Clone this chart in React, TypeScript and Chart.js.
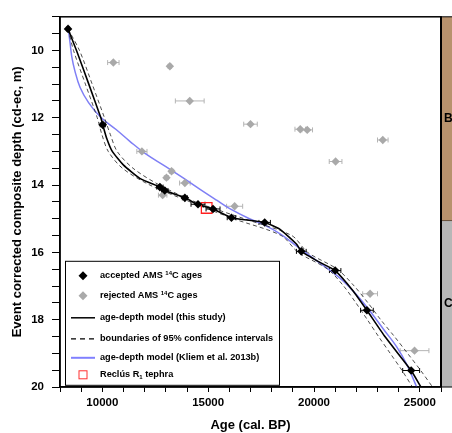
import React, { useEffect, useRef } from 'react';
import { Chart, registerables } from 'chart.js';

Chart.register(...registerables);

const FONT = '"Liberation Sans", Arial, Helvetica, sans-serif';

// Accepted AMS 14C ages (age cal. BP, depth m, 1-sigma age error)
const acceptedAge = [8380, 10020, 12720, 12950, 13900, 14520, 15230, 16100, 17670, 19400, 21000, 22500, 24590];
const acceptedDepth = [9.36, 12.21, 14.06, 14.16, 14.38, 14.57, 14.71, 14.97, 15.11, 15.97, 16.54, 17.72, 19.51];
const acceptedErr = [60, 120, 150, 150, 120, 330, 330, 200, 270, 230, 270, 300, 400];

// Rejected AMS 14C ages
const rejectedAge = [10520, 13190, 14130, 11870, 13270, 13030, 13900, 12850, 16250, 17000, 19350, 19680, 23250, 21020, 22650, 24750];
const rejectedDepth = [10.36, 10.47, 11.5, 13.0, 13.59, 13.78, 13.94, 14.3, 14.63, 12.19, 12.34, 12.36, 12.66, 13.3, 17.23, 18.92];
const rejectedErr = [270, 80, 680, 240, 100, 100, 250, 200, 380, 320, 250, 250, 250, 300, 350, 680];

// Age-depth model (this study)
const modelDepth = [9.36, 10, 11, 12, 12.21, 12.6, 13.0, 13.4, 13.8, 14.06, 14.16, 14.38, 14.58, 14.71, 14.97, 15.11, 15.31, 15.75, 15.97, 16.29, 16.54, 17.13, 17.72, 18.5, 19.51, 20];
const modelAge = [8380, 8780, 9360, 9930, 10020, 10200, 10470, 10990, 11770, 12720, 12950, 13900, 14520, 15230, 16100, 17670, 18380, 19170, 19400, 20260, 21000, 21830, 22500, 23350, 24590, 25050];

// 95% confidence interval boundaries
const ciDepth = [9.36, 10, 11, 12, 12.5, 13, 13.5, 14, 14.5, 15, 15.5, 16, 16.5, 17, 17.5, 18, 18.5, 19, 19.5, 20];
const ciLowerAge = [8380, 8640, 9200, 9760, 9980, 10280, 10950, 12250, 14150, 16200, 18450, 19250, 20650, 21400, 21980, 22520, 23050, 23600, 24150, 24650];
const ciUpperAge = [8380, 8920, 9520, 10100, 10380, 10700, 11450, 12700, 14400, 16700, 18950, 19700, 21100, 21900, 22550, 23150, 23800, 24420, 25030, 25600];

// Age-depth model (Kliem et al. 2013b)
const kliemDepth = [9.4, 9.8, 10.2, 10.6, 11.1, 11.55, 11.97, 12.35, 12.7, 13.05, 13.45, 13.78, 14.12, 14.45, 14.7, 15.0, 15.17, 15.45, 15.82, 16.28, 16.75, 17.25, 17.75, 18.3, 18.8, 19.35, 20.0];
const kliemAge = [8400, 8480, 8560, 8700, 8950, 9350, 9900, 10650, 11300, 12000, 13000, 13800, 14600, 15400, 16020, 16950, 17600, 18400, 19200, 20200, 21200, 22000, 22650, 23300, 23900, 24400, 24850];

// Reclús R1 tephra
const tephraAge = [14930];
const tephraDepth = [14.68];

// Lithological units on the right
const unitLabels = ['B', 'C-1'];
const unitTop = [9, 15.07];
const unitBottom = [15.07, 20];
const unitColors = ['#b8926d', '#b7b7b7'];

const xTickLabels = [10000, 15000, 20000, 25000];
const yTickLabels = [10, 12, 14, 16, 18, 20];

const pts = (xs: number[], ys: number[]) => xs.map((x, i) => ({ x, y: ys[i] }));

type Part = [string, 'n' | 'sup' | 'sub'];

function drawRich(ctx: CanvasRenderingContext2D, x: number, y: number, parts: Part[], size: number) {
  let cx = x;
  ctx.textBaseline = 'middle';
  ctx.textAlign = 'left';
  for (const [t, kind] of parts) {
    if (kind === 'n') {
      ctx.font = `bold ${size}px ${FONT}`;
      ctx.fillText(t, cx, y);
    } else {
      ctx.font = `bold ${size * 0.65}px ${FONT}`;
      ctx.fillText(t, cx, kind === 'sup' ? y - size * 0.3 : y + size * 0.3);
    }
    cx += ctx.measureText(t).width;
  }
}

const customPlugin = {
  id: 'custom',
  beforeDatasetsDraw(chart: any) {
    const { ctx, chartArea, scales } = chart;
    const x = scales.x;
    const y = scales.y;
    ctx.save();
    ctx.beginPath();
    ctx.rect(chartArea.left, chartArea.top, chartArea.right - chartArea.left, chartArea.bottom - chartArea.top);
    ctx.clip();
    const bars = (ages: number[], depths: number[], errs: number[], color: string) => {
      ctx.strokeStyle = color;
      ctx.lineWidth = 1;
      for (let i = 0; i < ages.length; i++) {
        const x0 = x.getPixelForValue(ages[i] - errs[i]);
        const x1 = x.getPixelForValue(ages[i] + errs[i]);
        const py = y.getPixelForValue(depths[i]);
        ctx.beginPath();
        ctx.moveTo(x0, py);
        ctx.lineTo(x1, py);
        ctx.moveTo(x0, py - 2.5);
        ctx.lineTo(x0, py + 2.5);
        ctx.moveTo(x1, py - 2.5);
        ctx.lineTo(x1, py + 2.5);
        ctx.stroke();
      }
    };
    bars(rejectedAge, rejectedDepth, rejectedErr, '#b4b4b4');
    bars(acceptedAge, acceptedDepth, acceptedErr, '#000000');
    ctx.restore();
  },
  afterDraw(chart: any) {
    const { ctx, chartArea, scales, width } = chart;
    const y = scales.y;
    const { left, right, top, bottom } = chartArea;
    ctx.save();
    // unit band
    for (let i = 0; i < unitLabels.length; i++) {
      const y0 = y.getPixelForValue(unitTop[i]);
      const y1 = y.getPixelForValue(unitBottom[i]);
      ctx.fillStyle = unitColors[i];
      ctx.fillRect(right, y0, width - right, y1 - y0);
      ctx.strokeStyle = '#000';
      ctx.lineWidth = 1;
      ctx.beginPath();
      ctx.moveTo(right, y1);
      ctx.lineTo(width, y1);
      ctx.stroke();
      ctx.fillStyle = '#000';
      ctx.font = `bold 12px ${FONT}`;
      ctx.textAlign = 'left';
      ctx.textBaseline = 'middle';
      ctx.fillText(unitLabels[i], right + 3, (y0 + y1) / 2);
    }
    ctx.beginPath();
    ctx.moveTo(right, top);
    ctx.lineTo(width, top);
    ctx.stroke();
    // frame
    ctx.strokeStyle = '#000';
    ctx.lineWidth = 1.5;
    ctx.strokeRect(left, top, right - left, bottom - top);
    ctx.lineWidth = 2;
    ctx.beginPath();
    ctx.moveTo(right, top);
    ctx.lineTo(right, bottom);
    ctx.stroke();

    // legend
    const lx = left + 5;
    const ly = top + 244;
    const lw = 214;
    const lh = 124;
    ctx.fillStyle = '#fff';
    ctx.fillRect(lx, ly, lw, lh);
    ctx.strokeStyle = '#000';
    ctx.lineWidth = 1;
    ctx.strokeRect(lx + 0.5, ly + 0.5, lw, lh);
    const rows = [15, 35, 57, 78, 97, 114];
    const symX = lx + 18;
    const textX = lx + 35;
    const fs = 9.2;
    const diamond = (cx: number, cy: number, r: number, c: string) => {
      ctx.fillStyle = c;
      ctx.beginPath();
      ctx.moveTo(cx, cy - r);
      ctx.lineTo(cx + r, cy);
      ctx.lineTo(cx, cy + r);
      ctx.lineTo(cx - r, cy);
      ctx.closePath();
      ctx.fill();
    };
    diamond(symX, ly + rows[0], 4.5, '#000');
    diamond(symX, ly + rows[1], 4.5, '#aaaaaa');
    ctx.strokeStyle = '#000';
    ctx.lineWidth = 1.5;
    ctx.beginPath();
    ctx.moveTo(lx + 6, ly + rows[2]);
    ctx.lineTo(lx + 30, ly + rows[2]);
    ctx.stroke();
    ctx.lineWidth = 1.2;
    ctx.setLineDash([5, 4]);
    ctx.beginPath();
    ctx.moveTo(lx + 6, ly + rows[3]);
    ctx.lineTo(lx + 30, ly + rows[3]);
    ctx.stroke();
    ctx.setLineDash([]);
    ctx.strokeStyle = '#8080ff';
    ctx.lineWidth = 2;
    ctx.beginPath();
    ctx.moveTo(lx + 6, ly + rows[4]);
    ctx.lineTo(lx + 30, ly + rows[4]);
    ctx.stroke();
    ctx.strokeStyle = '#ff3030';
    ctx.lineWidth = 1;
    ctx.strokeRect(symX - 4, ly + rows[5] - 4, 8, 8);

    ctx.fillStyle = '#000';
    drawRich(ctx, textX, ly + rows[0], [['accepted AMS ', 'n'], ['14', 'sup'], ['C ages', 'n']], fs);
    drawRich(ctx, textX, ly + rows[1], [['rejected AMS ', 'n'], ['14', 'sup'], ['C ages', 'n']], fs);
    drawRich(ctx, textX, ly + rows[2], [['age-depth model (this study)', 'n']], fs);
    drawRich(ctx, textX, ly + rows[3], [['boundaries of 95% confidence intervals', 'n']], fs);
    drawRich(ctx, textX, ly + rows[4], [['age-depth model (Kliem et al. 2013b)', 'n']], fs);
    drawRich(ctx, textX, ly + rows[5], [['Reclús R', 'n'], ['1', 'sub'], [' tephra', 'n']], fs);
    ctx.restore();
  },
};

export default function App() {
  const ref = useRef<HTMLCanvasElement | null>(null);
  useEffect(() => {
    if (!ref.current) return;
    const tickFont = { family: FONT, size: 11.5, weight: 'bold' as const };
    const titleFont = { family: FONT, size: 13, weight: 'bold' as const };
    const chart = new Chart(ref.current, {
      type: 'scatter',
      data: {
        datasets: [
          {
            label: 'accepted',
            data: pts(acceptedAge, acceptedDepth),
            pointStyle: 'rectRot',
            pointRadius: 4.3,
            backgroundColor: '#000',
            borderColor: '#000',
            borderWidth: 0,
          },
          {
            label: 'tephra',
            data: pts(tephraAge, tephraDepth),
            pointStyle: 'rect',
            pointRadius: 7.5,
            backgroundColor: 'rgba(0,0,0,0)',
            borderColor: '#ff2020',
            borderWidth: 1.3,
          },
          {
            label: 'rejected',
            data: pts(rejectedAge, rejectedDepth),
            pointStyle: 'rectRot',
            pointRadius: 4.2,
            backgroundColor: '#a9a9a9',
            borderColor: '#a9a9a9',
            borderWidth: 0,
          },
          {
            label: 'model',
            data: pts(modelAge, modelDepth),
            showLine: true,
            pointRadius: 0,
            borderColor: '#000',
            borderWidth: 1.6,
            tension: 0.15,
          },
          {
            label: 'ci lower',
            data: pts(ciLowerAge, ciDepth),
            showLine: true,
            pointRadius: 0,
            borderColor: '#222',
            borderWidth: 0.8,
            borderDash: [4, 3],
            tension: 0.3,
          },
          {
            label: 'ci upper',
            data: pts(ciUpperAge, ciDepth),
            showLine: true,
            pointRadius: 0,
            borderColor: '#222',
            borderWidth: 0.8,
            borderDash: [4, 3],
            tension: 0.3,
          },
          {
            label: 'kliem',
            data: pts(kliemAge, kliemDepth),
            showLine: true,
            pointRadius: 0,
            borderColor: '#7f7ff5',
            borderWidth: 1.5,
            tension: 0.4,
          },
        ],
      },
      options: {
        responsive: false,
        animation: false,
        events: [],
        layout: { padding: { top: 7, right: 11, left: 0, bottom: 0 } },
        plugins: { legend: { display: false }, tooltip: { enabled: false } },
        scales: {
          x: {
            type: 'linear',
            min: 8000,
            max: 26000,
            afterBuildTicks: (s: any) => {
              const t = [];
              for (let v = 8000; v <= 26000; v += 1000) t.push({ value: v });
              s.ticks = t;
            },
            ticks: {
              autoSkip: false,
              maxRotation: 0,
              color: '#000',
              font: tickFont,
              padding: 4,
              callback: (v: any) => (xTickLabels.includes(Number(v)) ? String(v) : ''),
            },
            grid: { drawOnChartArea: false, drawTicks: true, tickLength: 5, color: '#000', lineWidth: 1 },
            border: { display: true, color: '#000', width: 1.5 },
            title: { display: true, text: 'Age (cal. BP)', color: '#000', font: titleFont, padding: { top: 0, bottom: 0 } },
            afterFit: (s: any) => {
              s.height = 46;
              s.paddingLeft = 0;
              s.paddingRight = 0;
            },
          },
          y: {
            type: 'linear',
            reverse: true,
            min: 9,
            max: 20,
            afterBuildTicks: (s: any) => {
              const t = [];
              for (let v = 9; v <= 20.001; v += 0.5) t.push({ value: Math.round(v * 10) / 10 });
              s.ticks = t;
            },
            ticks: {
              autoSkip: false,
              color: '#000',
              font: tickFont,
              padding: 8,
              callback: (v: any) => (yTickLabels.includes(Number(v)) ? String(v) : ''),
            },
            grid: { drawOnChartArea: false, drawTicks: true, tickLength: 8, color: '#000', lineWidth: 1 },
            border: { display: true, color: '#000', width: 1.5 },
            title: {
              display: true,
              text: 'Event corrected composite depth (cd-ec, m)',
              color: '#000',
              font: titleFont,
              padding: { top: 2, bottom: 0 },
            },
            afterFit: (s: any) => {
              s.width = 52;
              s.paddingTop = 0;
              s.paddingBottom = 0;
            },
          },
        },
      },
      plugins: [customPlugin],
    } as any);
    return () => chart.destroy();
  }, []);
  return (
    <canvas
      ref={ref}
      width={444}
      height={425}
      style={{ display: 'block', position: 'fixed', left: 8, top: 8 }}
    />
  );
}
